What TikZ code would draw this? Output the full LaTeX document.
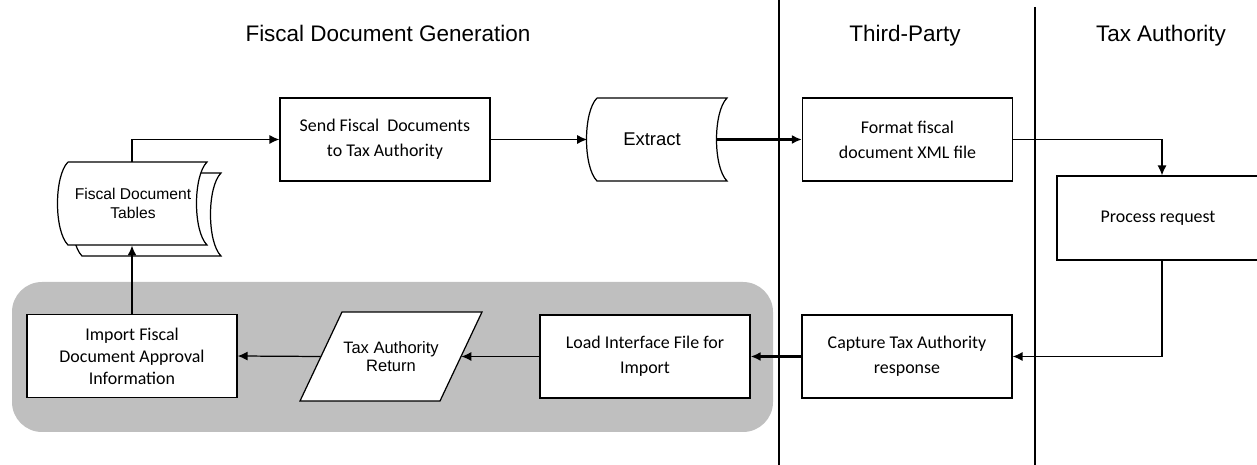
\documentclass[tikz,border=0pt]{standalone}
\usepackage{fontspec}
\setmainfont{Carlito}
\newfontfamily\arialfont{Liberation Sans}
\usetikzlibrary{positioning,arrows.meta}
\definecolor{lanegray}{RGB}{191,191,191}
\tikzset{
  proc/.style={draw,line width=.7pt,fill=white,minimum width=4.2cm,minimum height=1.66cm,align=center,inner sep=2pt,font=\fontsize{10.2}{14.2}\selectfont},
  lanetitle/.style={anchor=base,font=\arialfont\fontsize{12.8}{15}\selectfont},
  flow/.style={line width=.7pt,-{Latex[length=2mm,width=1.8mm]}},
  heavyflow/.style={line width=1.2pt,-{Latex[length=2mm,width=1.8mm]}},
}

\begin{document}
\begin{tikzpicture}[x=0.02cm,y=-0.02cm]
\useasboundingbox (0,0) rectangle (1257,465);

% lanes
\fill[lanegray,rounded corners=0.6cm] (12,282) rectangle (773,432);
\draw[line width=1.1pt] (779,0) -- (779,465);
\draw[line width=1.1pt] (1035,7) -- (1035,465);

\node[lanetitle] (gen) at (388,42) {Fiscal Document Generation};
\node[lanetitle] (third) at (905,42) {Third-Party};
\node[lanetitle] (auth) at (1161,42) {Tax Authority};

% stored data shapes
\draw[line width=.7pt,fill=white] (82,173) -- (221,173) .. controls (207,187) and (207,242) .. (221,256) -- (82,256) .. controls (68,242) and (68,187) .. (82,173);
\draw[line width=.7pt,fill=white] (68,162) -- (207,162) .. controls (193,176) and (193,231) .. (207,245) -- (68,245) .. controls (54,231) and (54,176) .. (68,162);
\draw[line width=.7pt,fill=white] (597,98) -- (727,98) .. controls (713,112) and (713,167) .. (727,181) -- (597,181) .. controls (583,167) and (583,112) .. (597,98);
\draw[line width=.7pt,fill=white] (342,312) -- (482,312) -- (440,401) -- (300,401) -- cycle;

\node[align=center,minimum width=2.78cm,minimum height=1.66cm,font=\arialfont\fontsize{8.9}{10.8}\selectfont] (fdt) at (133,203.5) {Fiscal Document\\Tables};
\node[minimum width=2.58cm,minimum height=1.66cm,font=\arialfont\fontsize{10.5}{12}\selectfont] (extract) at (652,139.5) {Extract};
\node[align=center,minimum width=2.8cm,minimum height=1.78cm,font=\arialfont\fontsize{9.4}{10.3}\selectfont] (taxret) at (391,356.5) {Tax Authority\\Return};

% process boxes
\node[proc] (send) at (385,139.5) {Send Fiscal\ \ Documents\\to Tax Authority};
\node[proc] (format) at (907.5,139.5) {Format fiscal\\document XML file};
\node[proc,minimum width=4.04cm,minimum height=1.68cm] (process) at (1158,218) {Process request};
\node[proc] (capture) at (907,356.5) {Capture Tax Authority\\response};
\node[proc] (load) at (645,356.5) {Load Interface File for\\Import};
\node[proc,font=\fontsize{10.2}{12.5}\selectfont] (import) at (132,356) {Import Fiscal\\Document Approval\\Information};
\coordinate (pr) at (1162,218);

% connectors
\draw[flow] (import |- fdt.north) |- (send.west);
\draw[flow] (send.east) -- (extract.west);
\draw[heavyflow] (extract.east) -- (format.west);
\draw[flow] (format.east) -| (pr |- process.north);
\draw[flow] (pr |- process.south) |- (capture.east);
\draw[heavyflow] (capture.west) -- (load.east);
\draw[flow] (load.west) -- (taxret.east);
\draw[flow] (taxret.west) -- (import.east);
\draw[heavyflow] (import.north) -- (import |- fdt.south);

\end{tikzpicture}
\end{document}
